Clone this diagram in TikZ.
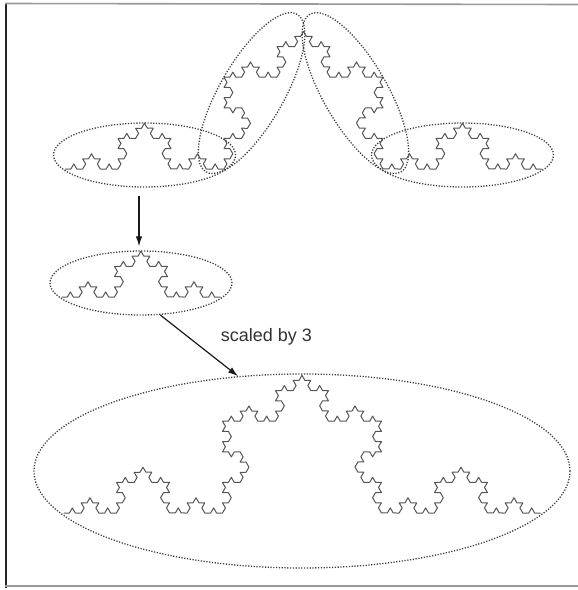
\documentclass[tikz,border=0pt]{standalone}
\usepackage{fontspec}
\setmainfont{Liberation Sans}
\usetikzlibrary{shapes.geometric,arrows.meta,decorations.fractals}
\definecolor{kochgray}{HTML}{555555}
\definecolor{ovalgray}{HTML}{3C3C3C}
\begin{document}
\begin{tikzpicture}[x=1pt,y=-1pt,
  koch/.style={draw=kochgray, line width=1pt, line join=round, decoration=Koch snowflake},
  oval/.style={ellipse, draw=ovalgray, line width=1.3pt, dash pattern=on 1.2pt off 1.6pt,
    minimum width=182pt, minimum height=64pt, inner sep=0pt},
  arr/.style={draw=black!90, line width=1.2pt, -{Latex[length=10pt,width=6.5pt]}},
  edgeline/.style={line width=1.6pt}]
\useasboundingbox (0,0) rectangle (578,590);
% scan frame
\draw[edgeline, black!85] (6,3) -- (6,588);
\draw[edgeline, black!40] (5,3.5) -- (578,4.5);
\draw[edgeline, black!40] (5,586) -- (578,586);
% top Koch curve (four pieces)
\draw[koch] decorate{decorate{decorate{decorate{(65,169) -- (542,169)}}}};
\node[oval] (p1) at (144.5,155) {};
\node[oval, rotate=60] (p2) at (251.6,93.1) {};
\node[oval, rotate=-60] (p3) at (355.4,93.1) {};
\node[oval] (p4) at (462.5,155) {};
% single piece
\draw[koch] decorate{decorate{decorate{(61.5,297) -- (220.5,297)}}};
\node[oval] (mid) at (141,283) {};
% scaled piece
\draw[koch] decorate{decorate{decorate{decorate{(63.5,513) -- (540.5,513)}}}};
\node[oval, minimum width=536pt, minimum height=194pt] (big) at (302,471) {};
% arrows
\draw[arr, shorten <=8pt, shorten >=4pt] ([xshift=-5.5pt]p1.south) -- ([xshift=-2pt]mid.north);
\draw[arr] (mid.-59) -- (big.124);
\node[font=\fontsize{18}{20}\selectfont, text=black!80] (lbl) at (266.5,337) {scaled by 3};
\end{tikzpicture}
\end{document}
